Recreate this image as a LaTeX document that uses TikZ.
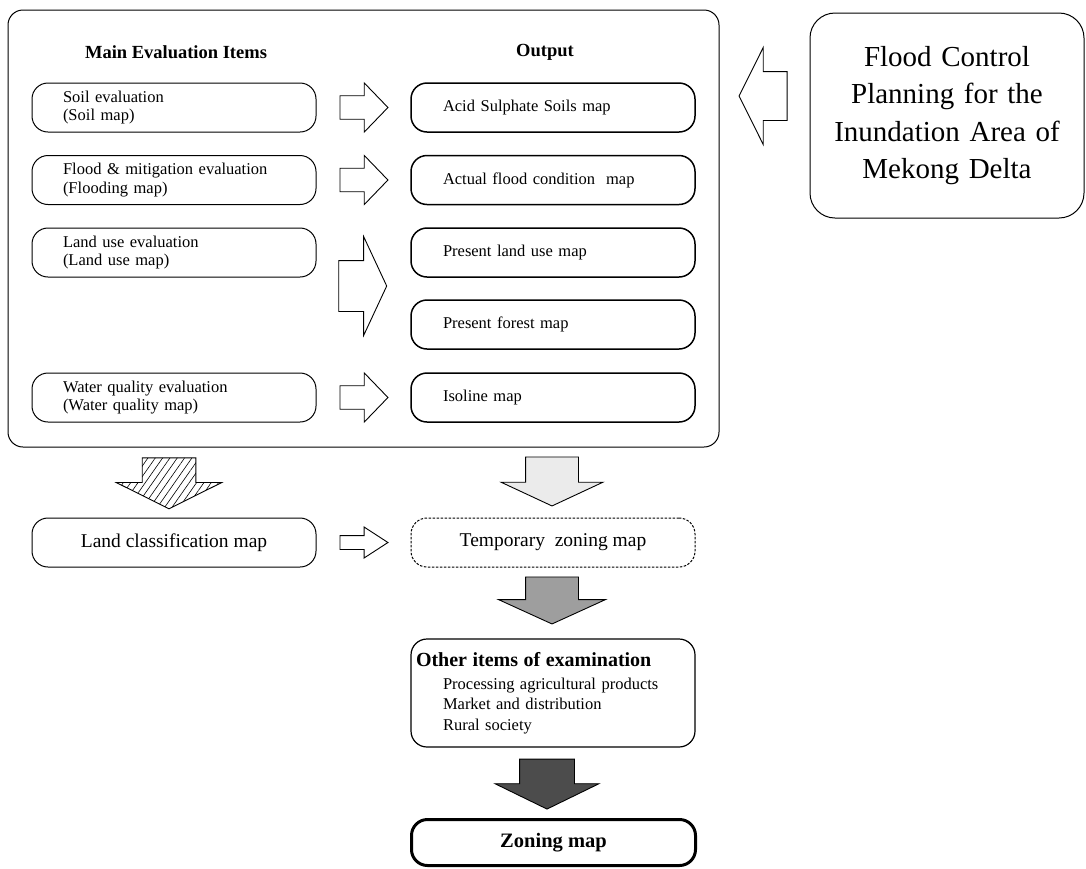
\documentclass[tikz,border=0pt]{standalone}
\usepackage{fontspec}
\setmainfont{Liberation Serif}
\usetikzlibrary{shapes.arrows, patterns.meta, calc, positioning}

\begin{document}
\begin{tikzpicture}[x=1pt,y=-1pt]
\tikzset{
    itembox/.style={draw, rounded corners=16pt, line width=1pt, minimum width=284pt, minimum height=49pt, text width=222pt, inner xsep=31pt, inner ysep=0pt, align=left, font=\fontsize{16.5}{18.5}\selectfont},
    outbox/.style={itembox, line width=1.5pt, text width=220pt, inner xsep=32pt},
    mapbox/.style={draw, rounded corners=16pt, line width=1pt, minimum width=284pt, minimum height=49pt, align=center, font=\fontsize{19.5}{22}\selectfont},
    headtext/.style={font=\fontsize{18.5}{22}\selectfont\bfseries},
    blockarrow/.style={draw, single arrow, line width=0.9pt, inner xsep=0pt, anchor=tail},
    rarrow/.style={blockarrow, minimum height=48pt, inner ysep=11.3pt, single arrow head extend=12.8pt, single arrow tip angle=92},
    darrow/.style={blockarrow, rotate=-90}
}
\useasboundingbox (0,0) rectangle (1086,868);

% Frame and headings
\node[draw, rounded corners=15pt, line width=1pt, minimum width=711pt, minimum height=437pt] (frame) at (363.5,228.5){};
\node[headtext] (mainhead) at (176,52){Main Evaluation Items};
\node[headtext] (outhead) at (545,52){Output};

% Evaluation items
\node[itembox] (soil) at (174,107.5){Soil evaluation\\(Soil map)};
\node[itembox] (flood) at (174,180){Flood \& mitigation evaluation\\(Flooding map)};
\node[itembox] (landuse) at (174,252.5){Land use evaluation\\(Land use map)};
\node[itembox] (water) at (174,397.5){Water quality evaluation\\(Water quality map)};

% Output maps
\node[outbox] (acid) at (553,107.5){Acid Sulphate Soils map};
\node[outbox] (actual) at (553,180){Actual flood condition\ \ map};
\node[outbox] (present) at (553,252.5){Present land use map};
\node[outbox] (forest) at (553,324.5){Present forest map};
\node[outbox] (isoline) at (553,397.5){Isoline map};

% Maps below the frame
\node[mapbox] (landclass) at (174,542.5){Land classification map};
\node[mapbox, dash pattern=on 2.5pt off 1.5pt] (temp) at (553,542.5){Temporary\ \ zoning map};
\node[draw, rounded corners=16pt, line width=1.2pt, minimum width=284pt, minimum height=108pt, text width=274pt, inner xsep=5pt, align=left, font=\fontsize{16.5}{20.3}\selectfont] (other) at (553,693){{\fontsize{20}{24}\selectfont\bfseries Other items of examination}\\[3pt]\hspace*{27pt}Processing agricultural products\\\hspace*{27pt}Market and distribution\\\hspace*{27pt}Rural society};
\node[draw, rounded corners=16pt, line width=3pt, minimum width=284pt, minimum height=46pt, font=\fontsize{20.5}{24}\selectfont\bfseries] (zoning) at (553.5,842.5){Zoning map};

% Flood control plan
\node[draw, rounded corners=25pt, line width=1pt, minimum width=274pt, minimum height=205pt, text width=260pt, align=center, font=\fontsize{29}{37.5}\selectfont] (fcp) at (947,115.5){Flood Control\\Planning for the\\Inundation Area of\\Mekong Delta};

% Block arrows
\node[rarrow] (toacid) at ([xshift=23pt]soil.east){};
\node[rarrow] (toactual) at ([xshift=23pt]flood.east){};
\node[rarrow, inner ysep=25pt, single arrow head extend=24pt, single arrow tip angle=130] (touse) at ($(present.west)!0.5!(forest.west)+(-72,-2.5)$){};
\node[rarrow] (toisoline) at ([xshift=23pt]water.east){};
\node[rarrow, inner ysep=6.5pt, single arrow head extend=8.5pt, single arrow tip angle=66] (totemp) at ([xshift=23pt]landclass.east){};
\node[blockarrow, rotate=180, minimum height=48pt, inner ysep=24pt, single arrow head extend=24pt, single arrow tip angle=127] (fromfcp) at ($(fcp.west)+(-22,-19.5)$){};
\node[darrow, minimum height=51pt, inner ysep=26.5pt, single arrow head extend=26pt, single arrow tip angle=127, pattern={Lines[angle=55,distance=6pt,line width=0.6pt]}] (toclass) at ($(landclass.north)+(-5,-60)$){};
\node[darrow, minimum height=49pt, inner ysep=26pt, single arrow head extend=24.5pt, single arrow tip angle=130, fill=black!8] (tozone) at ($(temp.north)+(-1,-61)$){};
\node[darrow, minimum height=47pt, inner ysep=26pt, single arrow head extend=27pt, single arrow tip angle=131, fill=black!38] (toother) at ($(temp.south)+(-1,9)$){};
\node[darrow, minimum height=50pt, inner ysep=27pt, single arrow head extend=24.5pt, single arrow tip angle=128, fill=black!70] (tozoning) at ($(other.south)+(-6,11)$){};
\end{tikzpicture}
\end{document}
